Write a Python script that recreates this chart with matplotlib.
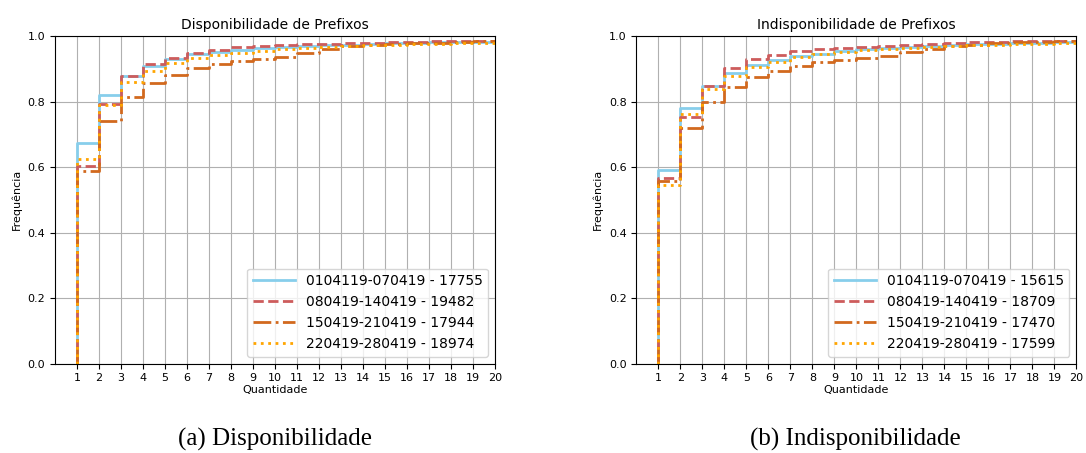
import numpy as np
import matplotlib.pyplot as plt

quantidade = list(range(1, 21))

# Disponibilidade
disp_labels = ['0104119-070419 - 17755', '080419-140419 - 19482',
               '150419-210419 - 17944', '220419-280419 - 18974']
disp_s1 = [0.672, 0.820, 0.877, 0.909, 0.930, 0.946, 0.952, 0.957, 0.962, 0.966,
           0.969, 0.972, 0.974, 0.976, 0.978, 0.980, 0.981, 0.982, 0.983, 0.984]
disp_s2 = [0.602, 0.793, 0.877, 0.915, 0.934, 0.949, 0.958, 0.965, 0.968, 0.972,
           0.975, 0.977, 0.979, 0.980, 0.982, 0.983, 0.984, 0.985, 0.986, 0.987]
disp_s3 = [0.587, 0.740, 0.814, 0.858, 0.881, 0.902, 0.914, 0.923, 0.930, 0.937,
           0.949, 0.960, 0.968, 0.973, 0.976, 0.978, 0.980, 0.982, 0.984, 0.986]
disp_s4 = [0.623, 0.790, 0.859, 0.892, 0.917, 0.933, 0.942, 0.949, 0.955, 0.960,
           0.963, 0.967, 0.970, 0.972, 0.974, 0.976, 0.977, 0.979, 0.980, 0.981]

# Indisponibilidade
indisp_labels = ['0104119-070419 - 15615', '080419-140419 - 18709',
                 '150419-210419 - 17470', '220419-280419 - 17599']
indisp_s1 = [0.590, 0.780, 0.847, 0.887, 0.913, 0.928, 0.938, 0.945, 0.953, 0.960,
             0.964, 0.967, 0.970, 0.973, 0.975, 0.977, 0.979, 0.980, 0.982, 0.983]
indisp_s2 = [0.565, 0.754, 0.848, 0.903, 0.929, 0.943, 0.955, 0.960, 0.963, 0.967,
             0.970, 0.973, 0.976, 0.979, 0.981, 0.983, 0.984, 0.985, 0.986, 0.988]
indisp_s3 = [0.556, 0.720, 0.797, 0.845, 0.874, 0.894, 0.908, 0.921, 0.926, 0.932,
             0.940, 0.950, 0.960, 0.968, 0.974, 0.978, 0.981, 0.983, 0.985, 0.986]
indisp_s4 = [0.544, 0.762, 0.838, 0.877, 0.904, 0.921, 0.935, 0.945, 0.952, 0.957,
             0.961, 0.964, 0.967, 0.970, 0.972, 0.974, 0.976, 0.977, 0.979, 0.980]

colors = ['#87CEEB', '#CD5C5C', '#D2691E', '#FFA500']
styles = ['-', '--', '-.', ':']

fig = plt.figure(figsize=(10.86, 4.53), dpi=100)
ax1 = fig.add_axes([0.0506, 0.1975, 0.4052, 0.7230])
ax2 = fig.add_axes([0.5860, 0.1975, 0.4052, 0.7230])


def draw(ax, series, labels, title):
    x = [1] + quantidade
    for vals, lab, c, ls in zip(series, labels, colors, styles):
        ax.step(x, [0] + vals, where='post', color=c, linestyle=ls, linewidth=2, label=lab)
    ax.set_xlim(0, 20)
    ax.set_ylim(0, 1)
    ax.set_xticks(quantidade)
    ax.set_yticks(np.arange(0, 1.01, 0.2))
    ax.tick_params(labelsize=8)
    ax.grid(True)
    ax.set_title(title, fontsize=10, pad=5)
    ax.set_xlabel('Quantidade', fontsize=8, labelpad=1)
    ax.set_ylabel('Frequência', fontsize=8)
    ax.legend(loc='lower right', fontsize=10, handlelength=3)


draw(ax1, [disp_s1, disp_s2, disp_s3, disp_s4], disp_labels, 'Disponibilidade de Prefixos')
draw(ax2, [indisp_s1, indisp_s2, indisp_s3, indisp_s4], indisp_labels, 'Indisponibilidade de Prefixos')

fig.text(0.253, 0.03, '(a) Disponibilidade', ha='center', va='center',
         family='Liberation Serif', fontsize=18)
fig.text(0.788, 0.03, '(b) Indisponibilidade', ha='center', va='center',
         family='Liberation Serif', fontsize=18)

fig.savefig('out.png', dpi=100)
